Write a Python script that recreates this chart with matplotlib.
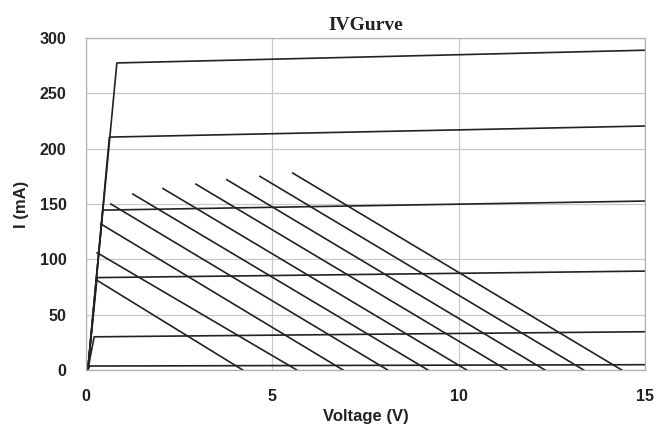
import matplotlib.pyplot as plt

# IV curves: knee point on the steep rise, then almost flat up to 15 V
curve_knee_v = [0.10, 0.22, 0.30, 0.45, 0.63, 0.83]
curve_knee_i = [3.6, 30.0, 83.5, 144.5, 210.5, 277.5]
curve_end_i = [4.8, 34.6, 89.4, 152.7, 220.5, 289.0]
curve_start_v = 0.05
curve_end_v = 15

# load lines: start point (V, mA) and x-intercept (V)
load_start_v = [0.30, 0.30, 0.40, 0.67, 1.26, 2.07, 2.95, 3.78, 4.67, 5.55]
load_start_i = [81, 106, 132, 150, 159, 164, 168, 172, 175, 178]
load_end_v = [4.21, 5.66, 6.90, 8.10, 9.18, 10.22, 11.30, 12.32, 13.36, 14.38]

x_ticks = [0, 5, 10, 15]
y_ticks = [0, 50, 100, 150, 200, 250, 300]

line_color = "#222222"

fig = plt.figure(figsize=(6.56, 4.30), dpi=100)
ax = fig.add_axes([0.131, 0.1395, 0.852, 0.772])

for kv, ki, ei in zip(curve_knee_v, curve_knee_i, curve_end_i):
    ax.plot([curve_start_v, kv, curve_end_v], [0, ki, ei],
            color=line_color, lw=1.2, solid_joinstyle="round")

for sv, si, ev in zip(load_start_v, load_start_i, load_end_v):
    ax.plot([sv, ev], [si, 0], color=line_color, lw=1.2)

ax.set_xlim(0, 15)
ax.set_ylim(0, 300)
ax.set_xticks(x_ticks)
ax.set_yticks(y_ticks)
ax.grid(True, color="#c8c8c8", lw=0.9)
ax.set_axisbelow(True)
for s in ax.spines.values():
    s.set_color("#b0b0b0")
    s.set_linewidth(0.9)
ax.tick_params(length=0, labelsize=11.5, colors="#222222")
ax.tick_params(axis="x", pad=14)
ax.tick_params(axis="y", pad=14)
for lab in ax.get_xticklabels() + ax.get_yticklabels():
    lab.set_fontweight("bold")
    lab.set_family("Liberation Sans")

ax.set_title("IVGurve", family="Liberation Serif", fontweight="bold",
             fontsize=14, color="#222222", pad=6)
ax.set_xlabel("Voltage (V)", family="Liberation Sans", fontweight="bold",
              fontsize=12, color="#222222", labelpad=3)
ax.set_ylabel("I (mA)", family="Liberation Sans", fontweight="bold",
              fontsize=12, color="#222222", labelpad=8)

fig.savefig("out.png", dpi=100)
